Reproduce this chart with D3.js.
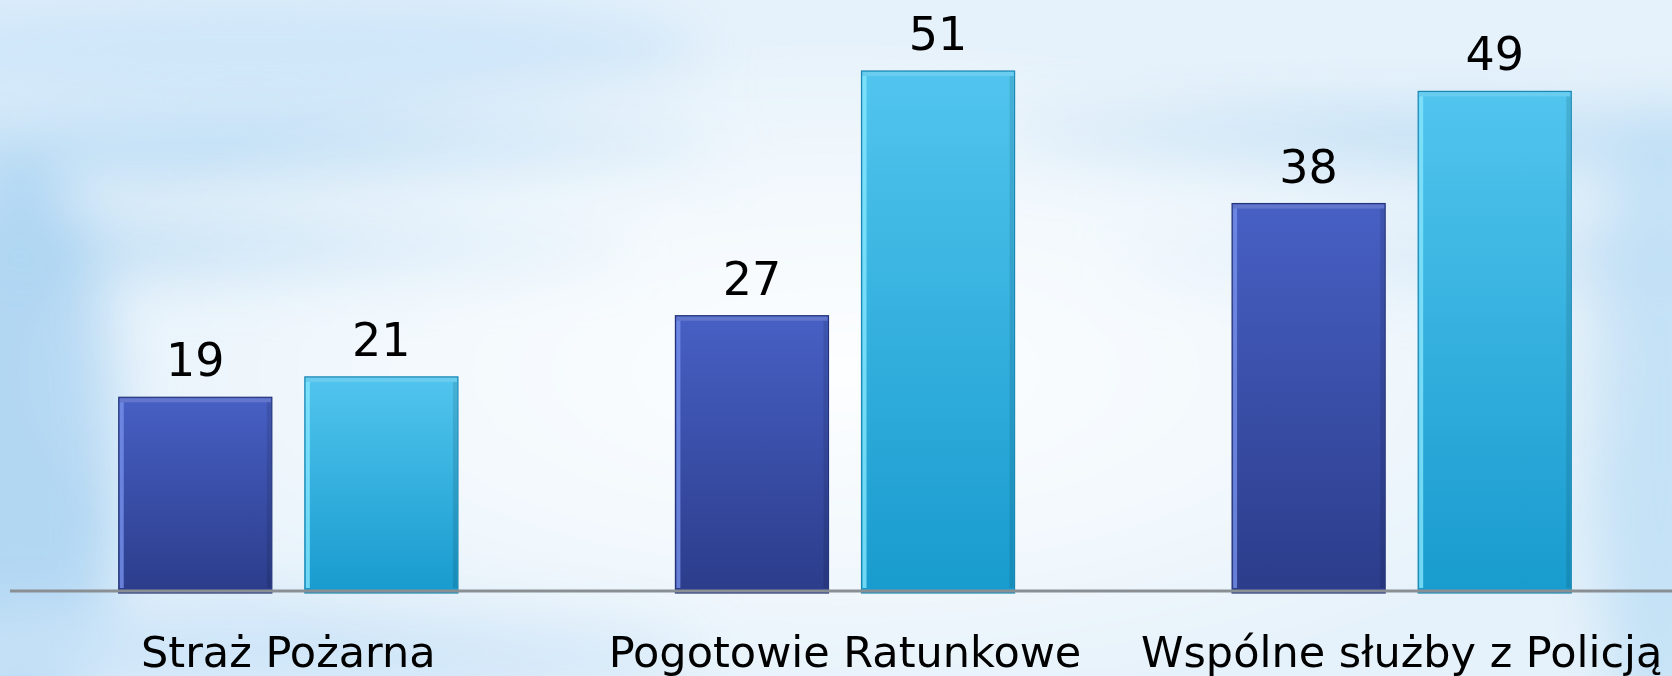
<!DOCTYPE html>
<html>
<head>
<meta charset="utf-8">
<script src="https://cdn.jsdelivr.net/npm/d3@7"></script>
<style>
  body { margin: 0; overflow: hidden; }
  svg { display: block; }
</style>
</head>
<body>
<svg width="1672" height="676"></svg>
<script>

var categories = ["Straż Pożarna", "Pogotowie Ratunkowe", "Wspólne służby z Policją"];
var seriesA = [19, 27, 38];
var seriesB = [21, 51, 49];
var seriesNames = ["A", "B"];

var svg = d3.select("svg"),
  width = +svg.attr("width"),
  height = +svg.attr("height");

var defs = svg.append("defs");

// background: pale sky with blurred blue streaks, white haze in the middle
svg.append("rect").attr("width", width).attr("height", height).attr("fill", "#e6f2fb");

defs.append("filter").attr("id", "blur").attr("x", "-50%").attr("y", "-50%").attr("width", "200%").attr("height", "200%")
  .append("feGaussianBlur").attr("stdDeviation", 28);

var streaks = [
  { cx: 250, cy: 50, rx: 450, ry: 60, c: "#cde5f8", o: 0.9 },
  { cx: 200, cy: 150, rx: 520, ry: 26, c: "#b3d8f3", o: 0.85 },
  { cx: 1450, cy: 140, rx: 450, ry: 30, c: "#bcdcf4", o: 0.8 },
  { cx: 150, cy: 250, rx: 480, ry: 26, c: "#b3d8f3", o: 0.8 },
  { cx: 1500, cy: 260, rx: 380, ry: 24, c: "#c4e0f5", o: 0.7 },
  { cx: 20, cy: 460, rx: 100, ry: 300, c: "#acd4f2", o: 0.9 },
  { cx: 1660, cy: 420, rx: 70, ry: 320, c: "#bcddf5", o: 0.8 },
  { cx: 250, cy: 650, rx: 450, ry: 50, c: "#cae3f7", o: 0.8 }
];
svg.append("g").attr("filter", "url(#blur)").selectAll("ellipse")
  .data(streaks)
  .enter().append("ellipse")
  .attr("cx", function(d) { return d.cx; })
  .attr("cy", function(d) { return d.cy; })
  .attr("rx", function(d) { return d.rx; })
  .attr("ry", function(d) { return d.ry; })
  .attr("fill", function(d) { return d.c; })
  .attr("opacity", function(d) { return d.o; });

var haze = defs.append("radialGradient").attr("id", "haze").attr("cx", "0.5").attr("cy", "0.55").attr("r", "0.5");
haze.append("stop").attr("offset", "0").attr("stop-color", "#ffffff").attr("stop-opacity", 0.9);
haze.append("stop").attr("offset", "0.6").attr("stop-color", "#ffffff").attr("stop-opacity", 0.45);
haze.append("stop").attr("offset", "1").attr("stop-color", "#ffffff").attr("stop-opacity", 0);
svg.append("rect").attr("width", width).attr("height", height).attr("fill", "url(#haze)");

// bar gradients
var colors = {
  A: { top: "#4760c4", bottom: "#2b3c8a", stroke: "#24347a", hi: "#7590ea" },
  B: { top: "#51c5ee", bottom: "#189bce", stroke: "#1b87b2", hi: "#86e6fc" }
};
seriesNames.forEach(function(s) {
  var g = defs.append("linearGradient").attr("id", "grad" + s).attr("x1", 0).attr("y1", 0).attr("x2", 0).attr("y2", 1);
  g.append("stop").attr("offset", "0").attr("stop-color", colors[s].top);
  g.append("stop").attr("offset", "1").attr("stop-color", colors[s].bottom);
});

var baseY = 591;
var x0 = d3.scaleBand().domain(categories).range([10, 1680]).paddingInner(0).paddingOuter(0);
var x1 = d3.scaleBand().domain(seriesNames).range([108.75, x0.bandwidth() - 108.75]).paddingInner(33 / 339 * 2 / (1 + 33 / 339)).paddingOuter(0);
var y = d3.scaleLinear().domain([0, 51]).range([baseY, 71]);

var data = [];
categories.forEach(function(c, i) {
  data.push({ cat: c, s: "A", v: seriesA[i] });
  data.push({ cat: c, s: "B", v: seriesB[i] });
});

var bar = svg.append("g").selectAll(".bar")
  .data(data)
  .enter().append("g")
  .attr("class", "bar")
  .attr("transform", function(d) { return "translate(" + (x0(d.cat) + x1(d.s)) + ",0)"; });

var bw = x1.bandwidth();

bar.append("rect")
  .attr("x", 0)
  .attr("y", function(d) { return y(d.v); })
  .attr("width", bw)
  .attr("height", function(d) { return baseY + 2 - y(d.v); })
  .attr("fill", function(d) { return "url(#grad" + d.s + ")"; })
  .attr("stroke", function(d) { return colors[d.s].stroke; })
  .attr("stroke-width", 1.2);

// bevel: left highlight, top light edge, right darker edge
bar.append("rect")
  .attr("x", 1)
  .attr("y", function(d) { return y(d.v) + 5; })
  .attr("width", 4)
  .attr("height", function(d) { return baseY - y(d.v) - 8; })
  .attr("fill", function(d) { return colors[d.s].hi; })
  .attr("opacity", 0.8);
bar.append("rect")
  .attr("x", 1)
  .attr("y", function(d) { return y(d.v) + 1; })
  .attr("width", bw - 2)
  .attr("height", 4)
  .attr("fill", "#ffffff")
  .attr("opacity", 0.15);
bar.append("rect")
  .attr("x", bw - 5)
  .attr("y", function(d) { return y(d.v) + 5; })
  .attr("width", 4)
  .attr("height", function(d) { return baseY - y(d.v) - 8; })
  .attr("fill", "#000000")
  .attr("opacity", 0.1);

bar.append("text")
  .attr("x", bw / 2)
  .attr("y", function(d) { return y(d.v) - 21; })
  .attr("text-anchor", "middle")
  .style("font-family", "'DejaVu Sans', sans-serif")
  .style("font-size", "46px")
  .style("fill", "#000")
  .text(function(d) { return d.v; });

// baseline
svg.append("line")
  .attr("x1", 10).attr("x2", width)
  .attr("y1", baseY).attr("y2", baseY)
  .attr("stroke", "#8a8f94")
  .attr("stroke-width", 3);

// category labels
svg.append("g").selectAll(".cat")
  .data(categories)
  .enter().append("text")
  .attr("class", "cat")
  .attr("x", function(d) { return x0(d) + x0.bandwidth() / 2; })
  .attr("y", 667)
  .attr("text-anchor", "middle")
  .style("font-family", "'DejaVu Sans', sans-serif")
  .style("font-size", "43px")
  .style("fill", "#000")
  .text(function(d) { return d; });

</script>
</body>
</html>
